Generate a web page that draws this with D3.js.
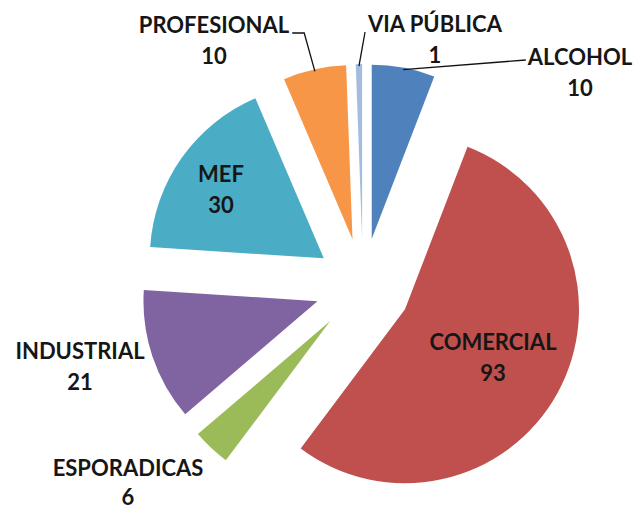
<!DOCTYPE html>
<html>
<head>
<meta charset="utf-8">
<script src="https://cdn.jsdelivr.net/npm/d3@7"></script>
<style>
  html, body { margin: 0; padding: 0; background: #fff; }
  svg { display: block; }
  text { font-family: Lato, "Open Sans", sans-serif; font-weight: 700; fill: #161616; }
</style>
</head>
<body>
<svg id="chart" width="636" height="510"></svg>
<script>
// Categories and counts, in clockwise order from 12 o'clock
const categories = ["ALCOHOL", "COMERCIAL", "ESPORADICAS", "INDUSTRIAL", "MEF", "PROFESIONAL", "VIA PÚBLICA"];
const counts = [10, 93, 6, 21, 30, 10, 1];
const colors = ["#4F81BD", "#C0504D", "#9BBB59", "#8064A2", "#4BACC6", "#F79646", "#A5BBE0"];

// Layout
const width = 636, height = 510;
const center = { x: 363, y: 286 };
const radius = 174;
const explode = 48;
const fontSize = 22;
const lineGap = 31;

// Label anchors (centre of first text line baseline) and leader style for outside labels
const labelLayout = {
  "ALCOHOL":     { x: 580, y: 65,  leader: "left" },
  "COMERCIAL":   { x: 493, y: 350 },
  "ESPORADICAS": { x: 128, y: 476, gap: 29 },
  "INDUSTRIAL":  { x: 80,  y: 359 },
  "MEF":         { x: 221, y: 182 },
  "PROFESIONAL": { x: 214, y: 33,  leader: "right" },
  "VIA PÚBLICA": { x: 435, y: 32,  leader: "under" }
};

const svg = d3.select("#chart");
const data = categories.map((c, i) => ({ name: c, value: counts[i], color: colors[i] }));

const pie = d3.pie().sort(null).value(d => d.value).startAngle(0).endAngle(2 * Math.PI);
const arcs = pie(data);
const arc = d3.arc().innerRadius(0).outerRadius(radius);

const g = svg.append("g").attr("transform", `translate(${center.x},${center.y})`);

// Each slice is pulled out from the centre along its mid angle
function offset(a) {
  const mid = (a.startAngle + a.endAngle) / 2;
  return [explode * Math.sin(mid), -explode * Math.cos(mid)];
}

g.selectAll("path.slice")
  .data(arcs)
  .join("path")
  .attr("class", "slice")
  .attr("d", arc)
  .attr("fill", d => d.data.color)
  .attr("transform", d => { const [dx, dy] = offset(d); return `translate(${dx},${dy})`; });

function textWidth(s) {
  const t = svg.append("text").attr("font-size", fontSize).text(s);
  const w = t.node().getComputedTextLength();
  t.remove();
  return w;
}

// Leader lines from the outer edge of small slices to their labels
const lines = svg.append("g").attr("fill", "none").attr("stroke", "#111").attr("stroke-width", 1.3);
arcs.forEach(a => {
  const lay = labelLayout[a.data.name];
  if (!lay.leader) return;
  const mid = (a.startAngle + a.endAngle) / 2;
  const [dx, dy] = offset(a);
  const px = center.x + dx + (radius - 2) * Math.sin(mid);
  const py = center.y + dy - (radius - 2) * Math.cos(mid);
  const w = textWidth(a.data.name);
  let pts;
  if (lay.leader === "right") {
    const ex = lay.x + w / 2 + 3;
    pts = [[ex, lay.y], [ex + 12, lay.y], [px, py]];
  } else if (lay.leader === "left") {
    pts = [[lay.x - w / 2 - 2, lay.y - 5], [px, py]];
  } else {
    pts = [[lay.x - w / 2 - 3, lay.y], [px, py]];
  }
  lines.append("path").attr("d", d3.line()(pts));
});

// Data labels: category name with its count underneath
const labels = svg.append("g").attr("font-size", fontSize).attr("text-anchor", "middle");
arcs.forEach(a => {
  const lay = labelLayout[a.data.name];
  const t = labels.append("text").attr("x", lay.x).attr("y", lay.y);
  t.append("tspan").attr("x", lay.x).text(a.data.name);
  t.append("tspan").attr("x", lay.x).attr("dy", lay.gap || lineGap).text(a.data.value);
});
</script>
</body>
</html>
